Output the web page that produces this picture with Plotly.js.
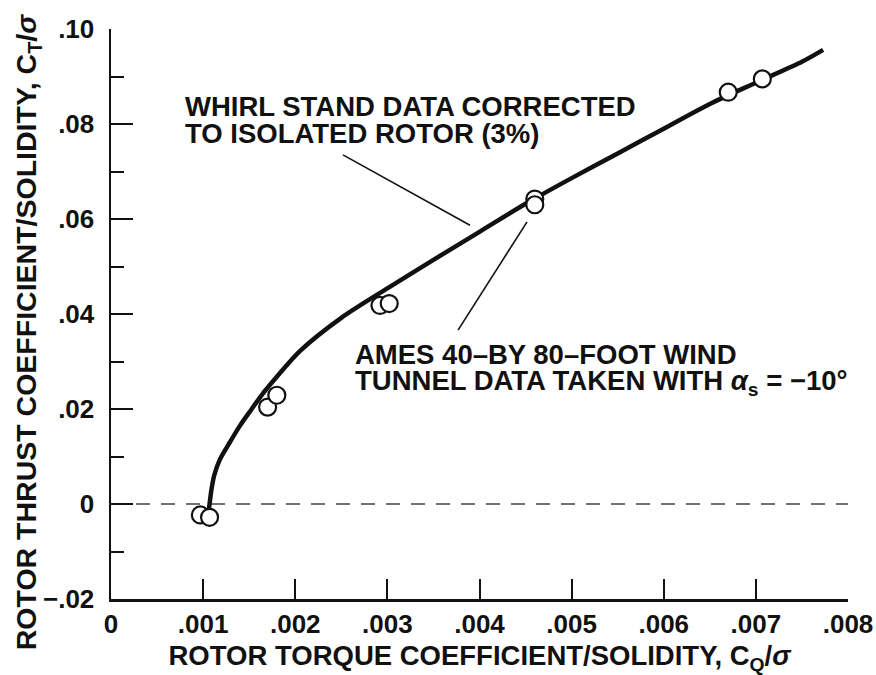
<!DOCTYPE html>
<html>
<head>
<meta charset="utf-8">
<script src="https://cdn.plot.ly/plotly-3.0.1.min.js"></script>
<style>html,body{margin:0;padding:0;background:#fff;}#chart{width:876px;height:675px;}</style>
</head>
<body>
<div id="chart"></div>
<script>
// Faired curve: whirl stand data corrected to isolated rotor (3%)
const curveCQ = [0.00106, 0.00107, 0.00109, 0.00112, 0.00118, 0.00129, 0.00140, 0.00152, 0.00165, 0.00180, 0.00205, 0.00250, 0.00300, 0.00350, 0.00400, 0.00450, 0.00500, 0.00550, 0.00600, 0.00650, 0.00700, 0.00750, 0.00773];
const curveCT = [-0.0015, 0.0000, 0.0030, 0.0060, 0.0093, 0.0130, 0.0165, 0.0198, 0.0233, 0.0268, 0.0322, 0.0392, 0.0454, 0.0514, 0.0573, 0.0632, 0.0686, 0.0738, 0.0790, 0.0842, 0.0887, 0.0931, 0.0956];

// Ames 40- by 80-foot wind tunnel data, alpha_s = -10 deg
const amesCQ = [0.00097, 0.00107, 0.00170, 0.00180, 0.00292, 0.00302, 0.00460, 0.00460, 0.00670, 0.00707];
const amesCT = [-0.0023, -0.0028, 0.0204, 0.0229, 0.0418, 0.0422, 0.0642, 0.0630, 0.0867, 0.0895];

// Tick labels
const xTickVals = [0, 0.001, 0.002, 0.003, 0.004, 0.005, 0.006, 0.007, 0.008];
const xTickText = ["0", ".001", ".002", ".003", ".004", ".005", ".006", ".007", ".008"];
const yTickVals = [-0.02, 0, 0.02, 0.04, 0.06, 0.08, 0.10];
const yTickText = ["\u2212.02", "0", ".02", ".04", ".06", ".08", ".10"];

const FONT = "Liberation Sans, Arial, Helvetica, sans-serif";
const INK = "#111";

const traces = [
  {
    x: curveCQ, y: curveCT, type: "scatter", mode: "lines",
    line: {color: INK, width: 4.5, shape: "spline", smoothing: 0.8},
    hoverinfo: "skip", showlegend: false
  },
  {
    x: amesCQ, y: amesCT, type: "scatter", mode: "markers",
    marker: {symbol: "circle", size: 17, color: "#fff", line: {color: INK, width: 2.2}},
    showlegend: false
  }
];

const textFont = {family: FONT, size: 27.5, color: INK, weight: 700};

const layout = {
  width: 876, height: 675,
  margin: {l: 111, r: 28, t: 29, b: 76, pad: 0},
  paper_bgcolor: "#fff", plot_bgcolor: "#fff",
  font: {family: FONT, color: INK, weight: 700},
  showlegend: false,
  xaxis: {
    range: [0, 0.008], tickvals: xTickVals, ticktext: xTickText,
    ticks: "inside", ticklen: 20, tickwidth: 2, tickcolor: INK,
    showline: true, linewidth: 2.5, linecolor: INK, mirror: false,
    showgrid: false, zeroline: false,
    ticklabelstandoff: 0,
    tickfont: {family: FONT, size: 26, color: INK, weight: 700},
    title: {text: "ROTOR TORQUE COEFFICIENT/SOLIDITY, C<sub>Q</sub>/<i>σ</i>", standoff: 9,
            font: {family: FONT, size: 27.5, color: INK, weight: 700}},
    fixedrange: true
  },
  yaxis: {
    range: [-0.02, 0.10], tickvals: yTickVals, ticktext: yTickText,
    ticks: "inside", ticklen: 22, tickwidth: 2, tickcolor: INK,
    minor: {dtick: 0.01, tick0: 0, ticks: "inside", ticklen: 13, tickwidth: 2, tickcolor: INK},
    showline: true, linewidth: 2.5, linecolor: INK, mirror: false,
    showgrid: false, zeroline: false,
    ticklabelstandoff: 9,
    tickfont: {family: FONT, size: 26, color: INK, weight: 700},
    fixedrange: true
  },
  shapes: [
    {type: "line", xref: "paper", yref: "y", x0: 0, x1: 1, y0: 0, y1: 0,
     line: {color: "#444", width: 1.3, dash: "14px,11px"}, layer: "below"},
    {type: "line", xref: "x", yref: "y", x0: 0.002518, y0: 0.0735, x1: 0.003897, y1: 0.0587,
     line: {color: INK, width: 1.6}},
    {type: "line", xref: "x", yref: "y", x0: 0.003767, y0: 0.0366, x1: 0.004516, y1: 0.0594,
     line: {color: INK, width: 1.6}}
  ],
  annotations: [
    {xref: "paper", yref: "paper", x: 0, y: 0.468, xshift: -83, xanchor: "center", yanchor: "middle",
     textangle: -90, showarrow: false,
     text: "ROTOR THRUST COEFFICIENT/SOLIDITY, C<sub>T</sub>/<i>σ</i>",
     font: {family: FONT, size: 28.5, color: INK, weight: 700}},
    {xref: "x", yref: "y", x: 0.000782, y: 0.0836, xanchor: "left", yanchor: "middle",
     text: "WHIRL STAND DATA CORRECTED", showarrow: false, font: textFont},
    {xref: "x", yref: "y", x: 0.000782, y: 0.0779, xanchor: "left", yanchor: "middle",
     text: "TO ISOLATED ROTOR (3%)", showarrow: false, font: textFont},
    {xref: "x", yref: "y", x: 0.00263, y: 0.0314, xanchor: "left", yanchor: "middle",
     text: "AMES 40\u2013BY 80\u2013FOOT WIND", showarrow: false, font: textFont},
    {xref: "x", yref: "y", x: 0.00263, y: 0.0255, xanchor: "left", yanchor: "middle",
     text: "TUNNEL DATA TAKEN WITH <i>α</i><sub>s</sub> = \u221210°", showarrow: false, font: textFont}
  ]
};

Plotly.newPlot("chart", traces, layout, {displayModeBar: false, staticPlot: true});
</script>
</body>
</html>
